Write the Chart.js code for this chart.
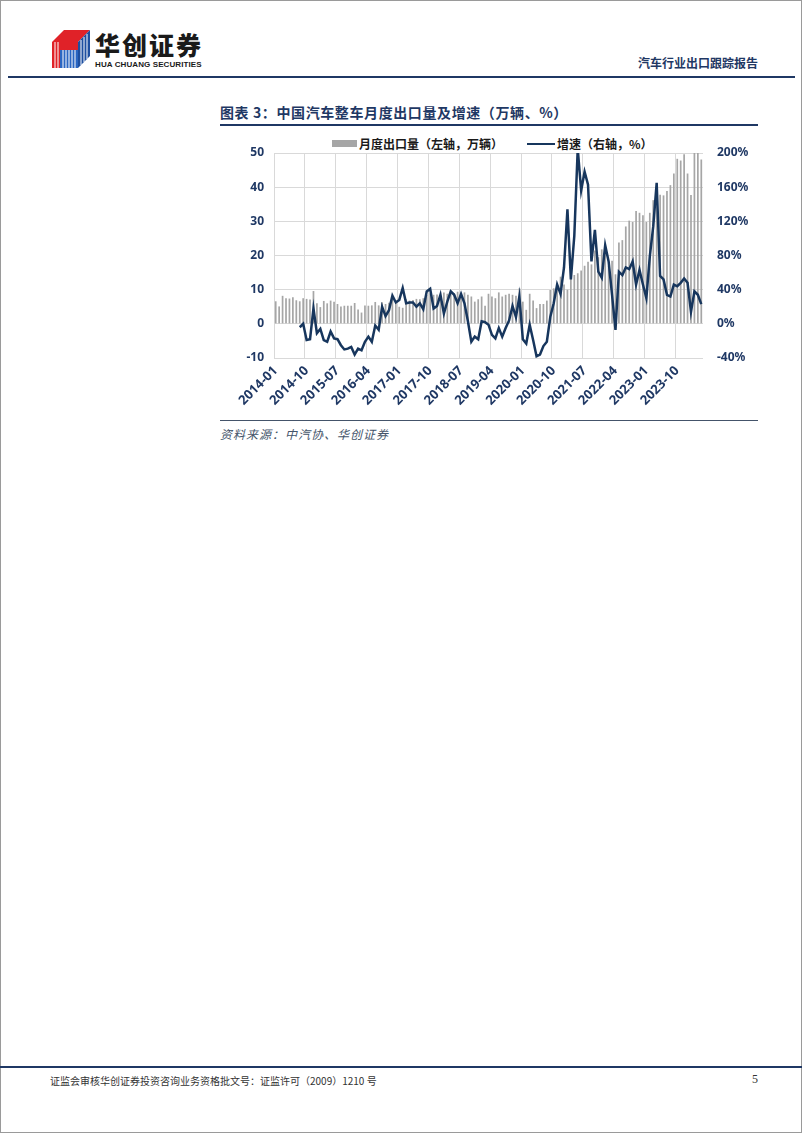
<!DOCTYPE html>
<html>
<head>
<meta charset="utf-8">
<script src="https://cdn.jsdelivr.net/npm/chart.js@4.4.1/dist/chart.umd.min.js"></script>
<style>
  body { margin: 0; background: #fff; font-family: "Noto Sans CJK SC", "Noto Sans", sans-serif; }
  .page { position: relative; width: 802px; height: 1133px; overflow: hidden; }
  .frame { position: absolute; left: 0; top: 0; width: 800px; height: 1131px; border: 1px solid #9a9a9a; }
  .abs { position: absolute; white-space: nowrap; }
  .brand { left: 95px; top: 30px; font-size: 25px; line-height: 28px; font-weight: 900; color: #1a1a1a; letter-spacing: 2px; }
  .brand-en { left: 95px; top: 61px; font-family: "Liberation Sans", sans-serif; font-size: 8px; line-height: 8px; font-weight: bold; color: #1a1a1a; letter-spacing: 0.1px; }
  .report { left: 638px; top: 54px; font-size: 12px; font-weight: bold; color: #1f3864; }
  .hline { position: absolute; background: #1f3864; }
  .title { left: 220px; top: 102px; font-size: 14px; font-weight: bold; color: #1f3864; letter-spacing: 0.6px; }
  .legend { top: 135px; font-size: 12px; font-weight: bold; color: #1a1a1a; }
  .source { left: 220px; top: 425px; font-size: 12px; font-style: italic; color: #44546a; letter-spacing: 1px; }
  .foot { left: 50px; top: 1073px; font-size: 10px; color: #333; }
  .pageno { left: 752px; top: 1072px; font-size: 12px; color: #333; font-family: "Liberation Serif", serif; }
  #wrap { position: absolute; left: 220px; top: 130px; width: 540px; height: 290px; }
</style>
</head>
<body>
<div class="page">
  <div class="frame"></div>

  <svg class="abs" style="left:52px;top:30px" width="38" height="38" viewBox="0 0 38 38">
    <polygon points="0,12 12,0 38,0 26,12" fill="#e02228"/>
    <polygon points="0,12 26,12 26,38 0,38" fill="#e02228"/>
    <polygon points="26,12 38,0 38,26 26,38" fill="#1d4fa0"/>
    <polygon points="8,20 26,20 26,38 8,38" fill="#2a66c2"/>
    <g stroke="#fff" stroke-width="1">
      <line x1="3" y1="12" x2="3" y2="38"/><line x1="6" y1="12" x2="6" y2="38"/>
      <line x1="11" y1="20" x2="11" y2="38"/><line x1="14" y1="20" x2="14" y2="38"/>
      <line x1="17" y1="20" x2="17" y2="38"/><line x1="20" y1="20" x2="20" y2="38"/>
      <line x1="23" y1="20" x2="23" y2="38"/>
      <line x1="29" y1="10" x2="29" y2="35"/><line x1="32" y1="7" x2="32" y2="32"/>
      <line x1="35" y1="4" x2="35" y2="29"/>
    </g>
  </svg>
  <div class="abs brand">华创证券</div>
  <div class="abs brand-en">HUA CHUANG SECURITIES</div>
  <div class="abs report">汽车行业出口跟踪报告</div>
  <div class="hline" style="left:8px;top:76px;width:787px;height:2px"></div>

  <div class="abs title">图表 3：中国汽车整车月度出口量及增速（万辆、%）</div>
  <div class="hline" style="left:220px;top:124px;width:538px;height:2px"></div>

  <div class="abs" style="left:332px;top:140px;width:25px;height:7px;background:#a6a6a6"></div>
  <div class="abs legend" style="left:359px">月度出口量（左轴，万辆）</div>
  <div class="abs" style="left:527px;top:143px;width:28px;height:2px;background:#17365d"></div>
  <div class="abs legend" style="left:557px">增速（右轴，%）</div>

  <div id="wrap"><canvas id="exports" width="540" height="290"></canvas></div>

  <div class="hline" style="left:220px;top:420px;width:538px;height:1px;background:#44546a"></div>
  <div class="abs source">资料来源：中汽协、华创证券</div>

  <div class="hline" style="left:0;top:1066px;width:802px;height:2px"></div>
  <div class="abs foot">证监会审核华创证券投资咨询业务资格批文号：证监许可（2009）1210 号</div>
  <div class="abs pageno">5</div>
</div>

<script>
// months 2014-01 .. 2024-05
const months = []
for (let y = 2014; y <= 2024; y++) {
    for (let m = 1; m <= 12; m++) {
        if (y === 2024 && m > 5) break
        months.push(y + "-" + String(m).padStart(2, "0"))
    }
}

// 月度出口量（万辆）
const exportVolume = [
    6.6, 5.1, 8.2, 7.5, 7.4, 7.8, 6.9, 6.6, 7.5, 7.3, 7.1, 9.6,
    6.0, 4.9, 6.7, 6.0, 6.8, 6.5, 5.8, 5.1, 5.3, 5.3, 5.3, 6.1,
    4.2, 3.3, 5.4, 5.3, 5.4, 6.4, 5.4, 6.3, 5.8, 6.2, 7.1, 6.8,
    5.0, 4.7, 7.2, 6.8, 7.0, 7.3, 7.2, 7.5, 8.5, 8.9, 8.5, 8.6,
    8.0, 9.2, 8.8, 8.8, 9.0, 9.4, 8.8, 9.2, 8.5, 8.0, 6.5, 7.2,
    8.0, 5.3, 8.8, 8.0, 7.5, 9.2, 8.0, 8.5, 8.8, 8.5, 8.2, 10.4,
    6.5, 4.1, 8.8, 6.8, 4.6, 5.8, 5.8, 6.8, 9.9, 10.4, 11.6, 13.8,
    11.5, 10.0, 13.8, 14.3, 14.8, 15.6, 17.0, 18.2, 17.4, 21.5, 19.5, 21.8,
    21.5, 17.0, 18.5, 14.5, 23.8, 24.5, 28.5, 30.2, 29.8, 33.0, 32.5, 31.8,
    29.8, 32.5, 36.2, 38.7, 37.8, 37.6, 38.9, 40.6, 44.0, 48.3, 47.8, 49.6,
    44.0, 37.7, 50.4, 50.9, 48.1
]

// 增速（%）
const growthRate = [
    null, null, null, null, null, null, null, -4, 0, -19, -18, 18,
    -11, -6, -19, -21, -9, -17, -18, -25, -30, -29, -27, -36,
    -29, -31, -21, -15, -21, -2, -7, 20, 9, 16, 33, 25,
    28, 42, 24, 25, 25, 20, 24, 17, 38, 41, 18, 21,
    34, 12, 26, 38, 34, 24, 35, 24, 3, -21, -15, -18,
    3, 2, -1, -13, -17, -5, -15, -5, 4, 21, 8, 32,
    -18, -23, -1, -19, -38, -36, -26, -21, 8, 24, 46, 35,
    66, 134, 52, 103, 205, 156, 178, 163, 73, 110, 61, 54,
    92, 73, 34, -7, 61, 57, 66, 64, 73, 46, 63, 46,
    30, 79, 114, 165, 56, 52, 34, 32, 46, 44, 48, 53,
    48, 14, 38, 34, 23
]

const navy = "#1f3864"
const tickFont = { family: "'Noto Sans', sans-serif", size: 12, weight: "bold" }
const xTickFont = { family: "'Noto Sans', sans-serif", size: 13, weight: "bold" }

const ctx = document.getElementById("exports")

const exportChart = new Chart(ctx, {
    type: "bar",
    data: {
        labels: months,
        datasets: [{
            type: "line", label: "增速（右轴，%）", data: growthRate, yAxisID: "y1",
            borderColor: "#17365d", borderWidth: 2.5, pointRadius: 0, tension: 0, order: 0
        }, {
            type: "bar", label: "月度出口量（左轴，万辆）", data: exportVolume, yAxisID: "y",
            backgroundColor: "#a6a6a6", barPercentage: 0.5, categoryPercentage: 1.0, order: 1
        }]
    },
    options: {
        responsive: false,
        animation: false,
        layout: { padding: { top: 23, left: 0, right: 0, bottom: 0 } },
        plugins: { legend: { display: false }, tooltip: { enabled: false } },
        scales: {
            x: {
                offset: true,
                grid: {
                    offset: true, drawTicks: false,
                    color: c => c.index % 9 === 0 ? "#d9d9d9" : "rgba(0,0,0,0)"
                },
                border: { display: false },
                ticks: {
                    autoSkip: false, maxRotation: 45, minRotation: 45, padding: 5,
                    color: navy, font: xTickFont,
                    callback: (v, i) => i % 9 === 0 ? months[i] : ""
                },
                afterFit: s => { s.height = 62 }
            },
            y: {
                position: "left", min: -10, max: 50,
                ticks: { stepSize: 10, padding: 10, color: navy, font: tickFont },
                grid: { color: "#d9d9d9", drawTicks: false },
                border: { color: "#d9d9d9" },
                afterFit: s => { s.width = 54 }
            },
            y1: {
                position: "right", min: -40, max: 200,
                ticks: { stepSize: 40, padding: 14, color: navy, font: tickFont, callback: v => v + "%" },
                grid: { display: false, drawTicks: false },
                border: { display: false },
                afterFit: s => { s.width = 57 }
            }
        }
    }
})
</script>
</body>
</html>
